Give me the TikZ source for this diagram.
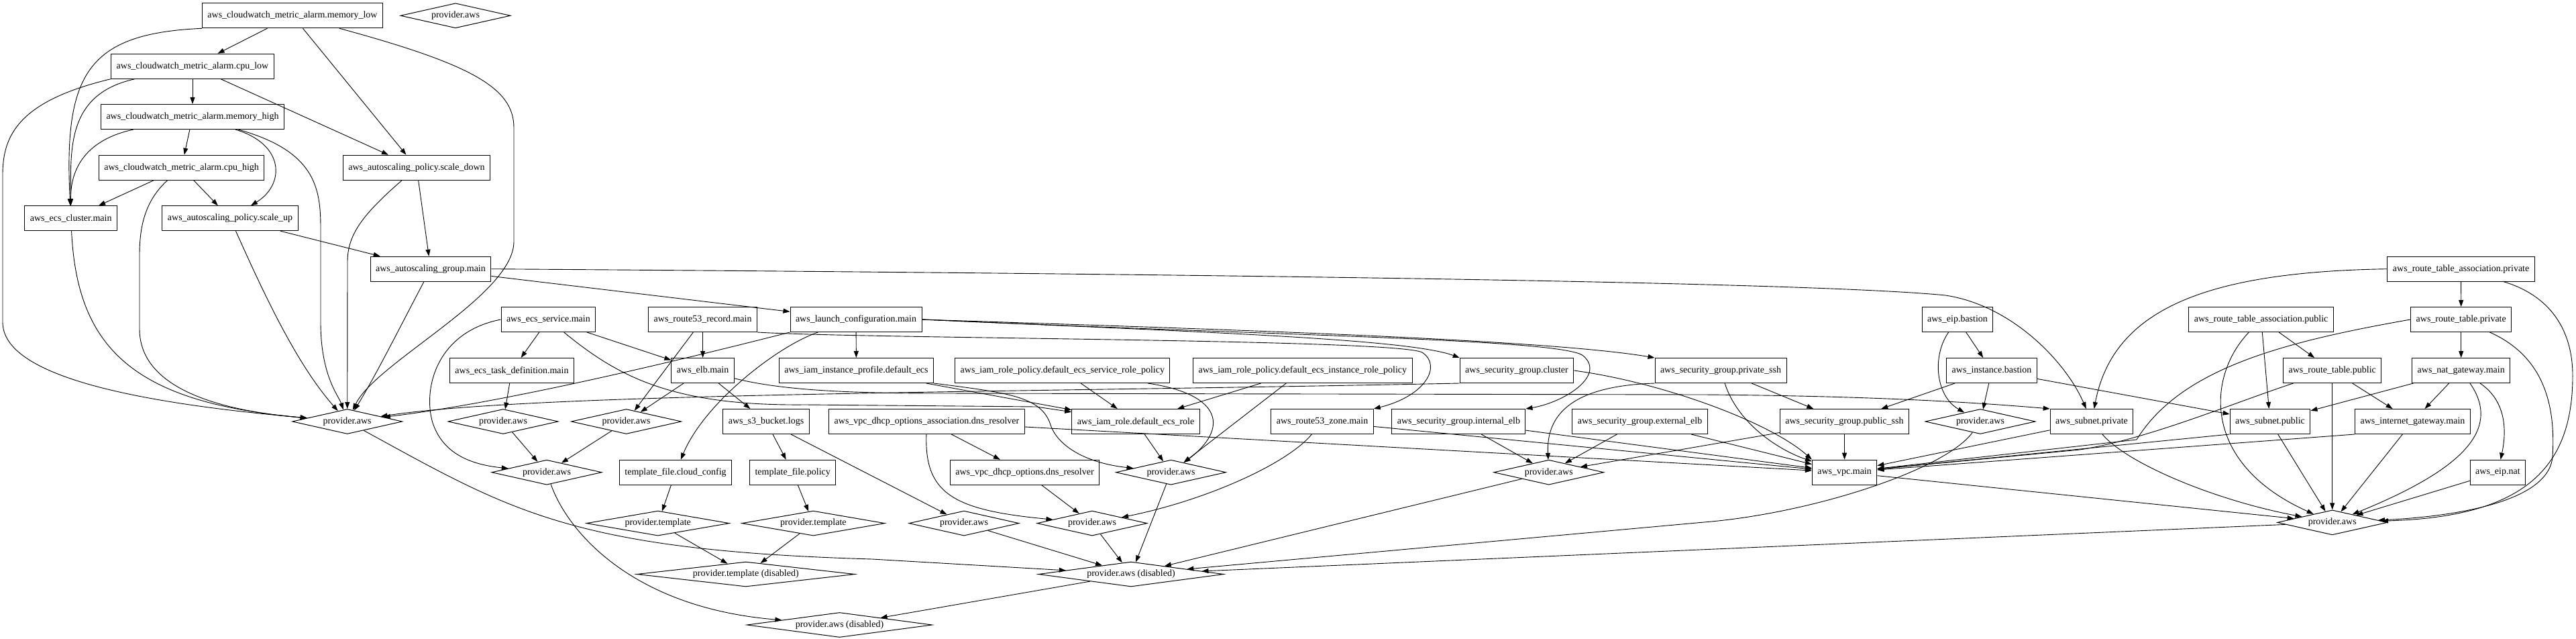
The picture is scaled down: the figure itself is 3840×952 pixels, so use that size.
\documentclass[tikz,border=0pt]{standalone}
\usepackage{fontspec}
\setmainfont{Liberation Serif}
\usetikzlibrary{shapes.geometric, arrows.meta}

\begin{document}
\begin{tikzpicture}[
    x=1pt, y=1pt,
    res/.style={draw, rectangle, line width=1pt, minimum height=37pt, inner xsep=8pt, inner ysep=0pt, font=\fontsize{14}{16}\selectfont},
    prov/.style={draw, diamond, line width=1pt, aspect=7, inner sep=0pt, minimum height=37pt, minimum width=#1, font=\fontsize{14}{16}\selectfont},
    prov/.default=164pt,
    dep/.style={-{Triangle[length=10pt, width=7pt]}, line width=0.9pt}
]
\useasboundingbox (0,0) rectangle (3840,-952);

\node[res] (memlow) at (436,-23.3) {aws\_cloudwatch\_metric\_alarm.memory\_low};
\node[prov] (provtop) at (679,-23.3) {provider.aws};
\node[res] (cpulow) at (287,-98.7) {aws\_cloudwatch\_metric\_alarm.cpu\_low};
\node[res] (memhigh) at (287,-174) {aws\_cloudwatch\_metric\_alarm.memory\_high};
\node[res] (cpuhigh) at (270.6,-249.7) {aws\_cloudwatch\_metric\_alarm.cpu\_high};
\node[res] (scaledown) at (621,-249.7) {aws\_autoscaling\_policy.scale\_down};
\node[res] (ecscluster) at (105.7,-325.3) {aws\_ecs\_cluster.main};
\node[res] (scaleup) at (343,-325.3) {aws\_autoscaling\_policy.scale\_up};
\node[res] (asg) at (642,-400.7) {aws\_autoscaling\_group.main};
\node[res] (rtaprivate) at (3668.6,-400.7) {aws\_route\_table\_association.private};

\node[res] (ecsservice) at (817.4,-476) {aws\_ecs\_service.main};
\node[res] (r53record) at (1047.6,-476) {aws\_route53\_record.main};
\node[res] (launchcfg) at (1276,-476) {aws\_launch\_configuration.main};
\node[res] (eipbastion) at (2918,-476) {aws\_eip.bastion};
\node[res] (rtapublic) at (3370.6,-476) {aws\_route\_table\_association.public};
\node[res] (rtprivate) at (3668.7,-476) {aws\_route\_table.private};

\node[res] (taskdef) at (763,-552) {aws\_ecs\_task\_definition.main};
\node[res] (elb) at (1047.6,-552) {aws\_elb.main};
\node[res] (instprofile) at (1276.5,-552) {aws\_iam\_instance\_profile.default\_ecs};
\node[res] (svcpolicy) at (1583.8,-552) {aws\_iam\_role\_policy.default\_ecs\_service\_role\_policy};
\node[res] (instpolicy) at (1941.8,-552) {aws\_iam\_role\_policy.default\_ecs\_instance\_role\_policy};
\node[res] (sgcluster) at (2261,-552) {aws\_security\_group.cluster};
\node[res] (sgprivssh) at (2565,-552) {aws\_security\_group.private\_ssh};
\node[res] (bastion) at (2969,-552) {aws\_instance.bastion};
\node[res] (rtpublic) at (3476.7,-552) {aws\_route\_table.public};
\node[res] (natgw) at (3668.7,-552) {aws\_nat\_gateway.main};

\node[prov] (provcluster) at (517.7,-628) {provider.aws};
\node[prov] (provtask) at (750,-628) {provider.aws};
\node[prov] (provelb) at (933.6,-628) {provider.aws};
\node[res] (s3logs) at (1142,-628) {aws\_s3\_bucket.logs};
\node[res] (dhcpassoc) at (1381.5,-628) {aws\_vpc\_dhcp\_options\_association.dns\_resolver};
\node[res] (iamrole) at (1693,-628) {aws\_iam\_role.default\_ecs\_role};
\node[res] (r53zone) at (1971,-628) {aws\_route53\_zone.main};
\node[res] (sgintelb) at (2174.4,-628) {aws\_security\_group.internal\_elb};
\node[res] (sgextelb) at (2444.5,-628) {aws\_security\_group.external\_elb};
\node[res] (sgpubssh) at (2749.4,-628) {aws\_security\_group.public\_ssh};
\node[prov] (provbastion) at (2952,-628) {provider.aws};
\node[res] (subprivate) at (3118,-628) {aws\_subnet.private};
\node[res] (subpublic) at (3384,-628) {aws\_subnet.public};
\node[res] (igw) at (3596.5,-628) {aws\_internet\_gateway.main};

\node[prov] (provservice) at (815,-703.7) {provider.aws};
\node[res] (tplcloud) at (1007,-703.7) {template\_file.cloud\_config};
\node[res] (tplpolicy) at (1181.7,-703.7) {template\_file.policy};
\node[res] (dhcp) at (1527.5,-703.7) {aws\_vpc\_dhcp\_options.dns\_resolver};
\node[prov] (proviam) at (1745.5,-703.7) {provider.aws};
\node[prov] (provsg) at (2308.7,-703.7) {provider.aws};
\node[res] (vpc) at (2749.6,-703.7) {aws\_vpc.main};
\node[res] (eipnat) at (3723.4,-703.7) {aws\_eip.nat};

\node[prov=213pt] (tplprovA) at (980.7,-779.6) {provider.template};
\node[prov=213pt] (tplprovB) at (1212.4,-779.6) {provider.template};
\node[prov] (provs3) at (1437,-779.6) {provider.aws};
\node[prov] (provdns) at (1628,-779.6) {provider.aws};
\node[prov] (provvpc) at (3476.7,-778.4) {provider.aws};
\node[prov=325pt] (tpldisabled) at (1111.8,-855.5) {provider.template (disabled)};
\node[prov=276pt] (provdisabled) at (1686,-855.5) {provider.aws (disabled)};
\node[prov=276pt] (rootdisabled) at (1251.5,-931) {provider.aws (disabled)};

\draw[dep] (memlow) -- (cpulow);
\draw[dep] (memlow.south west) .. controls (130,-50) and (95,-110) .. (ecscluster);
\draw[dep] (memlow) -- (scaledown);
\draw[dep] (memlow) .. controls (700,-95) and (766,-130) .. (766,-190) -- (766,-360) .. controls (766,-440) and (560,-540) .. (provcluster);
\draw[dep] (cpulow) -- (memhigh);
\draw[dep] (cpulow) .. controls (100,-140) and (105,-220) .. (ecscluster);
\draw[dep] (cpulow.south west) .. controls (30,-150) and (4,-200) .. (4,-260) -- (4,-480) .. controls (4,-560) and (200,-600) .. (provcluster);
\draw[dep] (cpulow) -- (scaledown);
\draw[dep] (memhigh) -- (cpuhigh);
\draw[dep] (memhigh) .. controls (120,-210) and (105,-260) .. (ecscluster);
\draw[dep] (memhigh) .. controls (425,-215) and (425,-275) .. (scaleup);
\draw[dep] (memhigh) .. controls (470,-225) and (478,-280) .. (478,-340) -- (478,-480) .. controls (478,-560) and (505,-590) .. (provcluster);
\draw[dep] (cpuhigh) -- (ecscluster);
\draw[dep] (cpuhigh) -- (scaleup);
\draw[dep] (cpuhigh) .. controls (215,-300) and (208,-340) .. (208,-380) -- (208,-490) .. controls (208,-580) and (330,-612) .. (provcluster);
\draw[dep] (ecscluster) .. controls (115,-520) and (200,-600) .. (provcluster);
\draw[dep] (scaleup) -- (asg);
\draw[dep] (scaleup) .. controls (390,-430) and (440,-540) .. (provcluster);
\draw[dep] (scaledown) -- (asg);
\draw[dep] (scaledown) .. controls (540,-320) and (518,-350) .. (518,-390) -- (provcluster);
\draw[dep] (asg) .. controls (600,-480) and (560,-560) .. (provcluster);
\draw[dep] (asg) -- (launchcfg);
\draw[dep] (asg.east) .. controls (1800,-408) and (2700,-420) .. (2900,-440) .. controls (3000,-455) and (3080,-540) .. (subprivate);

\draw[dep] (launchcfg) -- (instprofile);
\draw[dep] (launchcfg) .. controls (1160,-515) and (1050,-600) .. (tplcloud);
\draw[dep] (launchcfg.south west) .. controls (1000,-540) and (750,-600) .. (provcluster);
\draw[dep] (launchcfg.east) .. controls (1800,-495) and (2100,-505) .. (sgcluster.north west);
\draw[dep] (launchcfg.east) .. controls (1800,-490) and (2300,-505) .. (sgprivssh.north west);
\draw[dep] (launchcfg.east) .. controls (1900,-500) and (2330,-505) .. (2360,-530) .. controls (2395,-560) and (2330,-600) .. (sgintelb.north east);
\draw[dep] (r53record) -- (elb);
\draw[dep] (r53record) -- (provelb);
\draw[dep] (r53record.south east) .. controls (1300,-505) and (2080,-505) .. (2120,-525) .. controls (2150,-545) and (2125,-590) .. (r53zone.north east);
\draw[dep] (ecsservice) -- (taskdef);
\draw[dep] (ecsservice) -- (elb);
\draw[dep] (ecsservice) .. controls (920,-560) and (1000,-605) .. (1200,-603) -- (1545,-606) -- (iamrole);
\draw[dep] (ecsservice.west) .. controls (650,-495) and (630,-580) .. (645,-630) .. controls (660,-675) and (700,-692) .. (provservice);
\draw[dep] (taskdef) -- (provtask);
\draw[dep] (elb) -- (provelb);
\draw[dep] (elb) -- (s3logs);
\draw[dep] (elb) .. controls (1160,-580) and (1250,-586) .. (1400,-586) -- (2540,-588) .. controls (2800,-590) and (2950,-600) .. (subprivate.north west);
\draw[dep] (s3logs) -- (tplpolicy);
\draw[dep] (s3logs) -- (provs3);
\draw[dep] (tplcloud) -- (tplprovA);
\draw[dep] (tplpolicy) -- (tplprovB);
\draw[dep] (tplprovA) -- (tpldisabled);
\draw[dep] (tplprovB) -- (tpldisabled);
\draw[dep] (provtask) -- (provservice);
\draw[dep] (provelb) -- (provservice);
\draw[dep] (provservice) .. controls (845,-790) and (940,-905) .. (rootdisabled);
\draw[dep] (provcluster) .. controls (760,-760) and (850,-820) .. (1300,-833) -- (provdisabled);

\draw[dep] (instprofile) -- (iamrole);
\draw[dep] (instprofile.south east) .. controls (1500,-585) and (1550,-590) .. (1565,-630) .. controls (1575,-665) and (1620,-690) .. (proviam);
\draw[dep] (svcpolicy) -- (iamrole);
\draw[dep] (svcpolicy) .. controls (1825,-588) and (1830,-640) .. (proviam);
\draw[dep] (instpolicy) -- (iamrole);
\draw[dep] (instpolicy) -- (proviam);
\draw[dep] (iamrole) -- (proviam);
\draw[dep] (dhcpassoc) -- (dhcp);
\draw[dep] (dhcpassoc) .. controls (1378,-735) and (1420,-760) .. (provdns);
\draw[dep] (dhcpassoc) -- (vpc);
\draw[dep] (dhcp) -- (provdns);
\draw[dep] (r53zone) .. controls (1920,-690) and (1800,-745) .. (provdns);
\draw[dep] (r53zone) -- (vpc);

\draw[dep] (sgcluster.south west) .. controls (1500,-585) and (800,-585) .. (provcluster);
\draw[dep] (sgcluster.east) .. controls (2480,-570) and (2640,-630) .. (vpc.north west);
\draw[dep] (sgintelb) -- (provsg);
\draw[dep] (sgintelb) -- (vpc);
\draw[dep] (sgextelb) -- (provsg);
\draw[dep] (sgextelb) -- (vpc);
\draw[dep] (sgprivssh) -- (sgpubssh);
\draw[dep] (sgprivssh) .. controls (2590,-630) and (2650,-670) .. (vpc);
\draw[dep] (sgprivssh.south west) .. controls (2340,-575) and (2305,-620) .. (provsg);
\draw[dep] (sgpubssh) -- (vpc);
\draw[dep] (sgpubssh) -- (provsg);

\draw[dep] (eipbastion) -- (bastion);
\draw[dep] (eipbastion) .. controls (2880,-530) and (2885,-590) .. (provbastion);
\draw[dep] (bastion) -- (sgpubssh);
\draw[dep] (bastion) -- (provbastion);
\draw[dep] (bastion) -- (subpublic);
\draw[dep] (subprivate) -- (vpc);
\draw[dep] (subprivate) .. controls (3170,-690) and (3300,-745) .. (provvpc);

\draw[dep] (rtaprivate) -- (rtprivate);
\draw[dep] (rtaprivate.west) .. controls (3290,-405) and (3150,-460) .. (subprivate);
\draw[dep] (rtaprivate) .. controls (3800,-440) and (3835,-490) .. (3835,-560) .. controls (3835,-700) and (3760,-770) .. (provvpc);
\draw[dep] (rtapublic) -- (rtpublic);
\draw[dep] (rtapublic) -- (subpublic);
\draw[dep] (rtapublic) .. controls (3290,-560) and (3280,-690) .. (provvpc);
\draw[dep] (rtprivate) -- (natgw);
\draw[dep] (rtprivate.west) .. controls (3400,-510) and (3250,-550) .. (3185,-655) -- (vpc);
\draw[dep] (rtprivate) .. controls (3790,-530) and (3810,-600) .. (3805,-680) .. controls (3800,-750) and (3650,-770) .. (provvpc);
\draw[dep] (rtpublic) -- (igw);
\draw[dep] (rtpublic) .. controls (3330,-600) and (3200,-655) .. (3100,-670) -- (vpc);
\draw[dep] (rtpublic) -- (provvpc);
\draw[dep] (natgw) -- (subpublic);
\draw[dep] (natgw) -- (igw);
\draw[dep] (natgw) .. controls (3740,-600) and (3735,-650) .. (eipnat);
\draw[dep] (natgw) .. controls (3730,-640) and (3670,-700) .. (provvpc);
\draw[dep] (subpublic.south west) -- (vpc);
\draw[dep] (subpublic) -- (provvpc);
\draw[dep] (igw.south west) -- (vpc);
\draw[dep] (igw) -- (provvpc);
\draw[dep] (eipnat) -- (provvpc);
\draw[dep] (vpc) -- (provvpc);

\draw[dep] (provs3) -- (provdisabled);
\draw[dep] (provdns) -- (provdisabled);
\draw[dep] (proviam) -- (provdisabled);
\draw[dep] (provsg) -- (provdisabled);
\draw[dep] (provbastion) .. controls (2900,-700) and (2700,-765) .. (2540,-778) -- (provdisabled);
\draw[dep] (provvpc) -- (provdisabled);
\draw[dep] (provdisabled) -- (rootdisabled);
\end{tikzpicture}
\end{document}
